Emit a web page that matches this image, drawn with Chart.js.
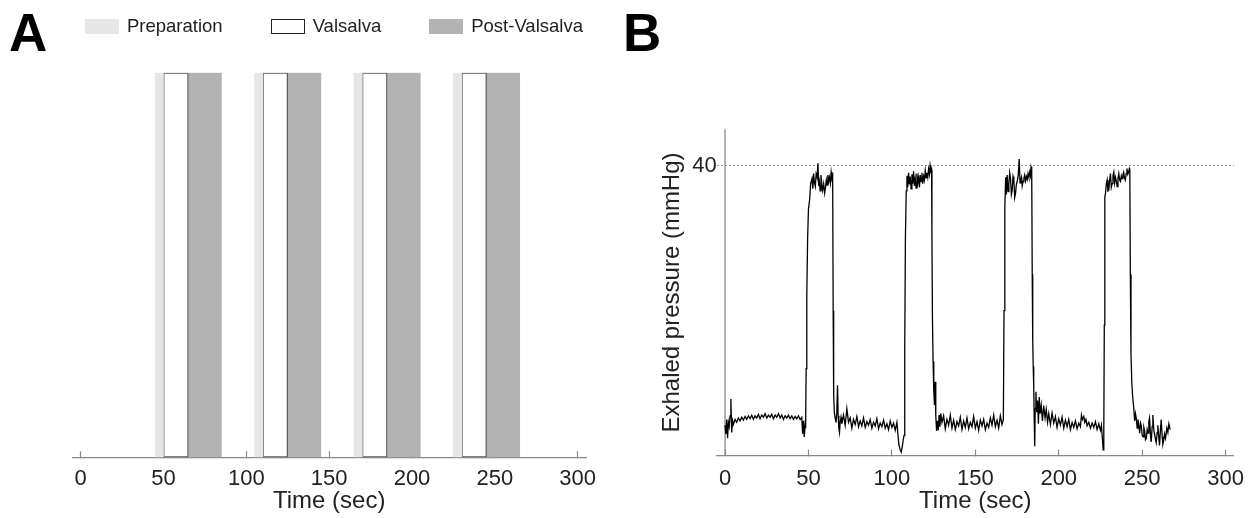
<!DOCTYPE html>
<html>
<head>
<meta charset="utf-8">
<title>Valsalva protocol</title>
<script src="https://cdn.jsdelivr.net/npm/chart.js@4.4.1/dist/chart.umd.min.js"></script>
<style>
  body { margin: 0; background: #fff; }
  #wrap { position: relative; width: 1260px; height: 518px; overflow: hidden; font-family: 'Liberation Sans', Arial, sans-serif; }
  canvas { position: absolute; top: 0; }
  #chartA { left: 0; }
  #chartB { left: 630px; }
  .panel { position: absolute; top: 6px; font-size: 53px; font-weight: bold; line-height: 53px; color: #000; }
  #legendA { position: absolute; left: 85px; top: 17px; display: flex; font-size: 18.5px; color: #222; }
  #legendA .item { display: flex; align-items: center; margin-right: 48px; line-height: 18px; }
  #legendA .box { width: 34px; height: 15px; box-sizing: border-box; margin-right: 8px; }
</style>
</head>
<body>
<div id="wrap">
  <canvas id="chartA" width="630" height="518"></canvas>
  <canvas id="chartB" width="630" height="518"></canvas>
  <div class="panel" style="left:9px">A</div>
  <div class="panel" style="left:623px">B</div>
  <div id="legendA"></div>
</div>
<script>
// panel A: protocol phases, [start, end] in seconds
var prepWindows = [[45, 50], [105, 110], [165, 170], [225, 230]];
var valsalvaWindows = [[50, 65], [110, 125], [170, 185], [230, 245]];
var postWindows = [[65, 85], [125, 145], [185, 205], [245, 265]];

var timeTicks = [0, 50, 100, 150, 200, 250, 300];
var pressureTicks = [40];

// panel B: exhaled pressure trace (sec, mmHg)
var pressureTime = [
  0, 0.5, 1, 1.5, 2, 2.5, 3, 3.5, 4, 4.5, 5, 6, 7, 8, 9, 10,
  11, 12, 13, 14, 15, 16, 17, 18, 19, 20, 21, 22, 23, 24, 25, 26, 27, 28, 29, 30,
  31, 32, 33, 34, 35, 36, 37, 38, 39, 40, 41, 42, 43, 44, 45, 46, 46.5, 47, 47.5, 48, 48.3,
  48.6, 49.0, 49.5, 50.0, 50.7, 51.3, 52.1, 52.6, 53.1, 53.6, 54.1, 54.6, 55.1, 55.7, 56.1, 56.5,
  57.0, 57.5, 58.0, 58.5, 59.1, 59.7, 60.2, 60.7, 61.2, 61.6, 62.1, 62.6, 63.1, 63.6, 64.1, 64.5,
  64.8, 65.1, 65.5, 66.0, 66.5, 67.0, 67.4, 67.8, 68.2, 68.6, 69.0, 69.5, 70, 71, 72, 73, 74, 75, 76, 77,
  78, 79, 80, 81, 82, 83, 84, 85, 86, 87, 88, 89, 90, 91, 92, 93, 94, 95, 96, 97,
  98, 99, 100, 101, 102, 103, 103.6, 104.2, 105, 105.6, 106.2, 106.8, 107.3,
  107.7, 108.1, 108.6, 109.0, 109.5, 110.0, 110.5, 111.0, 111.5, 112.0, 112.5, 113.0, 113.5, 114.0, 114.5, 115.0, 115.5, 116.0,
  116.5, 117.0, 117.5, 118.0, 118.5, 119.0, 119.5, 120.0, 120.5, 121.0, 121.5, 122.0, 122.5, 122.9, 123.4, 123.8,
  124.0, 124.3, 124.7, 125.1, 125.5, 125.9, 126.3, 126.8, 127.3, 127.8, 128.3, 128.8, 129.3, 130, 131, 132, 133, 134, 135, 136,
  137, 138, 139, 140, 141, 142, 143, 144, 145, 146, 147, 148, 149, 150, 151, 152, 153, 154, 155, 156,
  157, 158, 159, 160, 161, 162, 163, 164, 165, 166, 166.8,
  167.2, 167.7, 168.2, 168.6, 169.1, 169.6, 170.1, 170.6, 171.1, 171.6, 172.1, 172.6, 173.1, 173.6, 174.1, 174.6, 175.1, 175.7,
  176.3, 176.8, 177.2, 177.7, 178.1, 178.6, 179.1, 179.6, 180.1, 180.6, 181.1, 181.6, 182.1, 182.6, 183.0, 183.4, 183.8,
  184.1, 184.4, 184.7, 185.0, 185.3, 185.6, 185.9, 186.3, 186.8, 187.3, 187.8, 188.3, 188.8, 189.5, 190.2, 191, 191.8, 192.5, 193.3, 194,
  195, 196, 197, 198, 199, 200, 201, 202, 203, 204, 205, 206, 207, 208, 209, 210, 211, 212, 213, 213.6,
  214.2, 215, 215.6, 216.3, 217, 218, 219, 220, 221, 222, 223, 224, 225, 225.6, 226.1, 226.6, 227.0,
  227.3, 227.6, 228.0, 228.5, 229.0, 229.5, 230.0, 230.5, 231.0, 231.5, 232.0, 232.5, 233.0, 233.5, 234.0, 234.5, 235.0,
  235.5, 236.0, 236.5, 237.0, 237.5, 238.0, 238.5, 238.9, 239.4, 239.9, 240.4, 240.9, 241.4, 241.9, 242.3, 242.6,
  242.9, 243.3, 243.8, 244.3, 244.9, 245.5, 246.0, 246.5, 247, 247.5, 248, 248.5, 249, 249.5, 250, 250.5, 251, 251.5, 252, 252.5,
  253, 253.5, 254, 254.4, 255, 255.4, 256, 256.4, 257, 257.4, 258, 258.4, 259, 259.4, 260, 260.4, 261, 261.4, 262, 262.4,
  263, 263.4, 264, 264.8, 265.4, 266, 266.8
];
var pressureValue = [
  4.2, 3.0, 5.0, 2.4, 4.6, 4.0, 5.5, 7.8, 3.2, 4.8, 4.3, 5.0, 4.6, 5.2, 4.8, 5.3,
  4.9, 5.4, 5.0, 5.5, 5.1, 5.6, 5.0, 5.5, 5.2, 5.7, 5.1, 5.6, 5.3, 5.8, 5.2, 5.6, 5.3, 5.7, 5.1, 5.6,
  5.3, 5.8, 5.2, 5.6, 5.0, 5.5, 5.2, 5.6, 5.1, 5.5, 5.0, 5.4, 5.1, 5.5, 5.0, 5.3, 3.0, 4.8, 2.6, 4.2, 3.8,
  12, 22, 30, 34, 35.3, 37.5, 38.2, 36.8, 38.9, 37.6, 37.1, 38.8, 38.4, 40.3, 37.2, 37.8,
  36.5, 38.7, 37.4, 36.6, 37.5, 36.2, 37.0, 38.0, 37.3, 38.7, 37.8, 38.4, 37.6, 39.1, 38.2, 38.5,
  20, 8.5, 6.0, 5.2, 4.6, 6.0, 9.7, 5.5, 3.8, 3.2, 4.6, 5.3, 4.4, 5.6, 4.2, 6.5, 4.6, 5.2, 3.8, 5.0,
  4.3, 5.4, 4.0, 4.8, 4.1, 5.2, 3.9, 4.7, 4.2, 5.0, 3.8, 4.6, 4.1, 5.1, 3.7, 4.5, 4.0, 4.9, 3.8, 4.4,
  3.6, 4.8, 3.9, 4.5, 3.5, 4.6, 3.0, 1.5, 0.8, 0.5, 1.2, 2.2, 2.8,
  15, 30, 36.5, 38.6, 37.0, 39.0, 37.4, 38.5, 36.8, 38.8, 37.5, 39.2, 37.2, 38.2, 36.9, 38.9, 37.6, 38.4,
  37.0, 38.7, 37.8, 39.0, 37.5, 38.5, 38.0, 39.3, 38.3, 39.0, 38.4, 39.5, 38.8, 40.0, 39.2, 39.4,
  30, 19, 13, 9, 7, 10.2, 5.5, 3.4, 4.8, 3.5, 5.6, 4.0, 5.8, 4.6, 5.5, 3.7, 5.0, 4.2, 5.6, 3.8,
  4.9, 3.6, 4.7, 4.1, 5.3, 3.6, 4.8, 3.9, 5.2, 3.7, 4.6, 4.0, 5.4, 3.8, 4.7, 3.5, 4.9, 4.1, 5.0, 3.6,
  4.5, 3.9, 5.2, 4.2, 5.6, 4.0, 4.9, 3.8, 5.5, 4.3, 5.0,
  20, 34.3, 38.4, 36.0, 38.7, 36.4, 37.5, 39.0, 38.2, 36.0, 36.6, 38.5, 38.0, 35.6, 36.2, 37.4, 37.8, 38.6,
  40.9, 37.6, 38.0, 38.4, 37.2, 37.8, 38.2, 38.7, 37.9, 38.5, 38.1, 38.9, 38.4, 39.1, 38.6, 39.8, 39.4,
  25, 16, 12.3, 9.5, 5.0, 1.3, 6.5, 8.8, 6.0, 7.6, 4.4, 8.1, 5.8, 7.0, 4.8, 6.9, 5.2, 6.4, 4.6, 5.8,
  4.3, 5.9, 4.5, 5.4, 3.9, 5.1, 4.2, 5.3, 3.8, 4.9, 4.0, 5.0, 3.6, 4.6, 3.9, 4.8, 3.7, 4.5, 4.0, 5.6,
  5.0, 5.4, 4.6, 5.0, 4.1, 4.6, 3.8, 4.5, 3.9, 4.7, 3.6, 4.4, 3.5, 4.2, 2.5, 0.8, 3.0,
  18, 35.6, 36.2, 37.4, 38.0, 36.5, 36.6, 38.0, 38.9, 37.0, 37.5, 38.6, 39.1, 37.6, 38.4, 37.9, 37.1,
  38.2, 38.9, 38.0, 37.8, 38.6, 38.2, 38.8, 39.1, 38.3, 38.0, 38.9, 39.6, 38.8, 39.1, 39.6, 39.4,
  25, 14, 10.0, 8.2, 6.7, 4.8, 5.8, 5.1, 3.8, 5.0, 4.2, 3.1, 4.5, 4.1, 2.8, 2.6, 3.9, 3.4, 2.2, 2.4,
  3.6, 3.1, 4.7, 5.2, 2.8, 1.9, 4.0, 5.6, 3.5, 3.0, 2.2, 1.8, 3.2, 4.2, 2.4, 1.4, 3.8, 5.0, 2.6, 1.6,
  2.2, 3.0, 2.4, 3.8, 3.2, 4.4, 3.6
];

Chart.defaults.font.family = "'Liberation Sans', Arial, sans-serif";
Chart.defaults.color = '#222';

function toBars(windows) {
  return windows.map(function(w) { return { x: w, y: 'trial' }; });
}

// shared time axis, ticks pointing up into the plot
function timeAxis(height, labelPad) {
  return {
    type: 'linear',
    min: -5,
    max: 305,
    afterBuildTicks: function(scale) {
      scale.ticks = timeTicks.map(function(v) { return { value: v }; });
    },
    afterFit: function(scale) { scale.height = height; },
    grid: { drawOnChartArea: false, drawTicks: true, tickLength: -6, tickColor: '#888', tickWidth: 1.2 },
    border: { display: true, color: '#888', width: 1.3 },
    ticks: { padding: labelPad, color: '#222', font: { size: 22 } },
    title: { display: true, text: 'Time (sec)', color: '#222', font: { size: 24 }, padding: { top: 0, bottom: 2 } }
  };
}

// y axis line sits at t = 0, not at the left edge of the plot
var zeroAxis = {
  id: 'zeroAxis',
  beforeDatasetsDraw: function(chart) {
    var x = chart.scales.x.getPixelForValue(0);
    var y = chart.scales.y;
    var ctx = chart.ctx;
    ctx.save();
    ctx.strokeStyle = '#888';
    ctx.lineWidth = 1.3;
    ctx.beginPath();
    ctx.moveTo(x, y.top);
    ctx.lineTo(x, y.bottom);
    ctx.stroke();
    ctx.restore();
  }
};

var chartA = new Chart(document.getElementById('chartA'), {
  type: 'bar',
  data: {
    labels: ['trial'],
    datasets: [
      { label: 'Preparation', data: toBars(prepWindows), backgroundColor: '#e6e6e6', borderWidth: 0 },
      { label: 'Valsalva', data: toBars(valsalvaWindows), backgroundColor: '#ffffff', borderColor: '#5a5a5a', borderWidth: 1.3, borderSkipped: false },
      { label: 'Post-Valsalva', data: toBars(postWindows), backgroundColor: '#b3b3b3', borderWidth: 0 }
    ]
  },
  options: {
    indexAxis: 'y',
    responsive: false,
    animation: false,
    layout: { padding: { left: 72.3, right: 44, top: 72.7, bottom: 0 } },
    datasets: { bar: { grouped: false, barPercentage: 1, categoryPercentage: 1 } },
    plugins: { legend: { display: false }, tooltip: { enabled: false } },
    scales: {
      x: timeAxis(60.7, 14),
      y: { type: 'category', display: false }
    }
  }
});

// html legend for panel A
var legendEl = document.getElementById('legendA');
chartA.data.datasets.forEach(function(ds) {
  var item = document.createElement('span');
  item.className = 'item';
  var box = document.createElement('span');
  box.className = 'box';
  box.style.background = ds.backgroundColor;
  if (ds.borderWidth) box.style.border = '1.3px solid #222';
  var text = document.createElement('span');
  text.textContent = ds.label;
  item.appendChild(box);
  item.appendChild(text);
  legendEl.appendChild(item);
});

var chartB = new Chart(document.getElementById('chartB'), {
  type: 'line',
  data: {
    datasets: [{
      label: 'Exhaled pressure',
      data: pressureTime.map(function(t, i) { return { x: t, y: pressureValue[i] }; }),
      borderColor: '#000',
      borderWidth: 1.3,
      pointRadius: 0,
      tension: 0,
      fill: false
    }]
  },
  options: {
    responsive: false,
    animation: false,
    layout: { padding: { left: 20, right: 21.7, top: 129.3, bottom: 0 } },
    plugins: { legend: { display: false }, tooltip: { enabled: false } },
    scales: {
      x: timeAxis(62.3, 15.7),
      y: {
        min: 0,
        max: 45,
        afterBuildTicks: function(scale) {
          scale.ticks = pressureTicks.map(function(v) { return { value: v }; });
        },
        afterFit: function(scale) { scale.width = 66.7; },
        grid: { color: '#999', lineWidth: 1, drawTicks: false },
        border: { display: false, dash: [2, 2] },
        ticks: { padding: 0, color: '#222', font: { size: 22 } },
        title: { display: true, text: 'Exhaled pressure (mmHg)', color: '#222', font: { size: 24 }, padding: { top: 7.5, bottom: 0 } }
      }
    }
  },
  plugins: [zeroAxis]
});
</script>
</body>
</html>
